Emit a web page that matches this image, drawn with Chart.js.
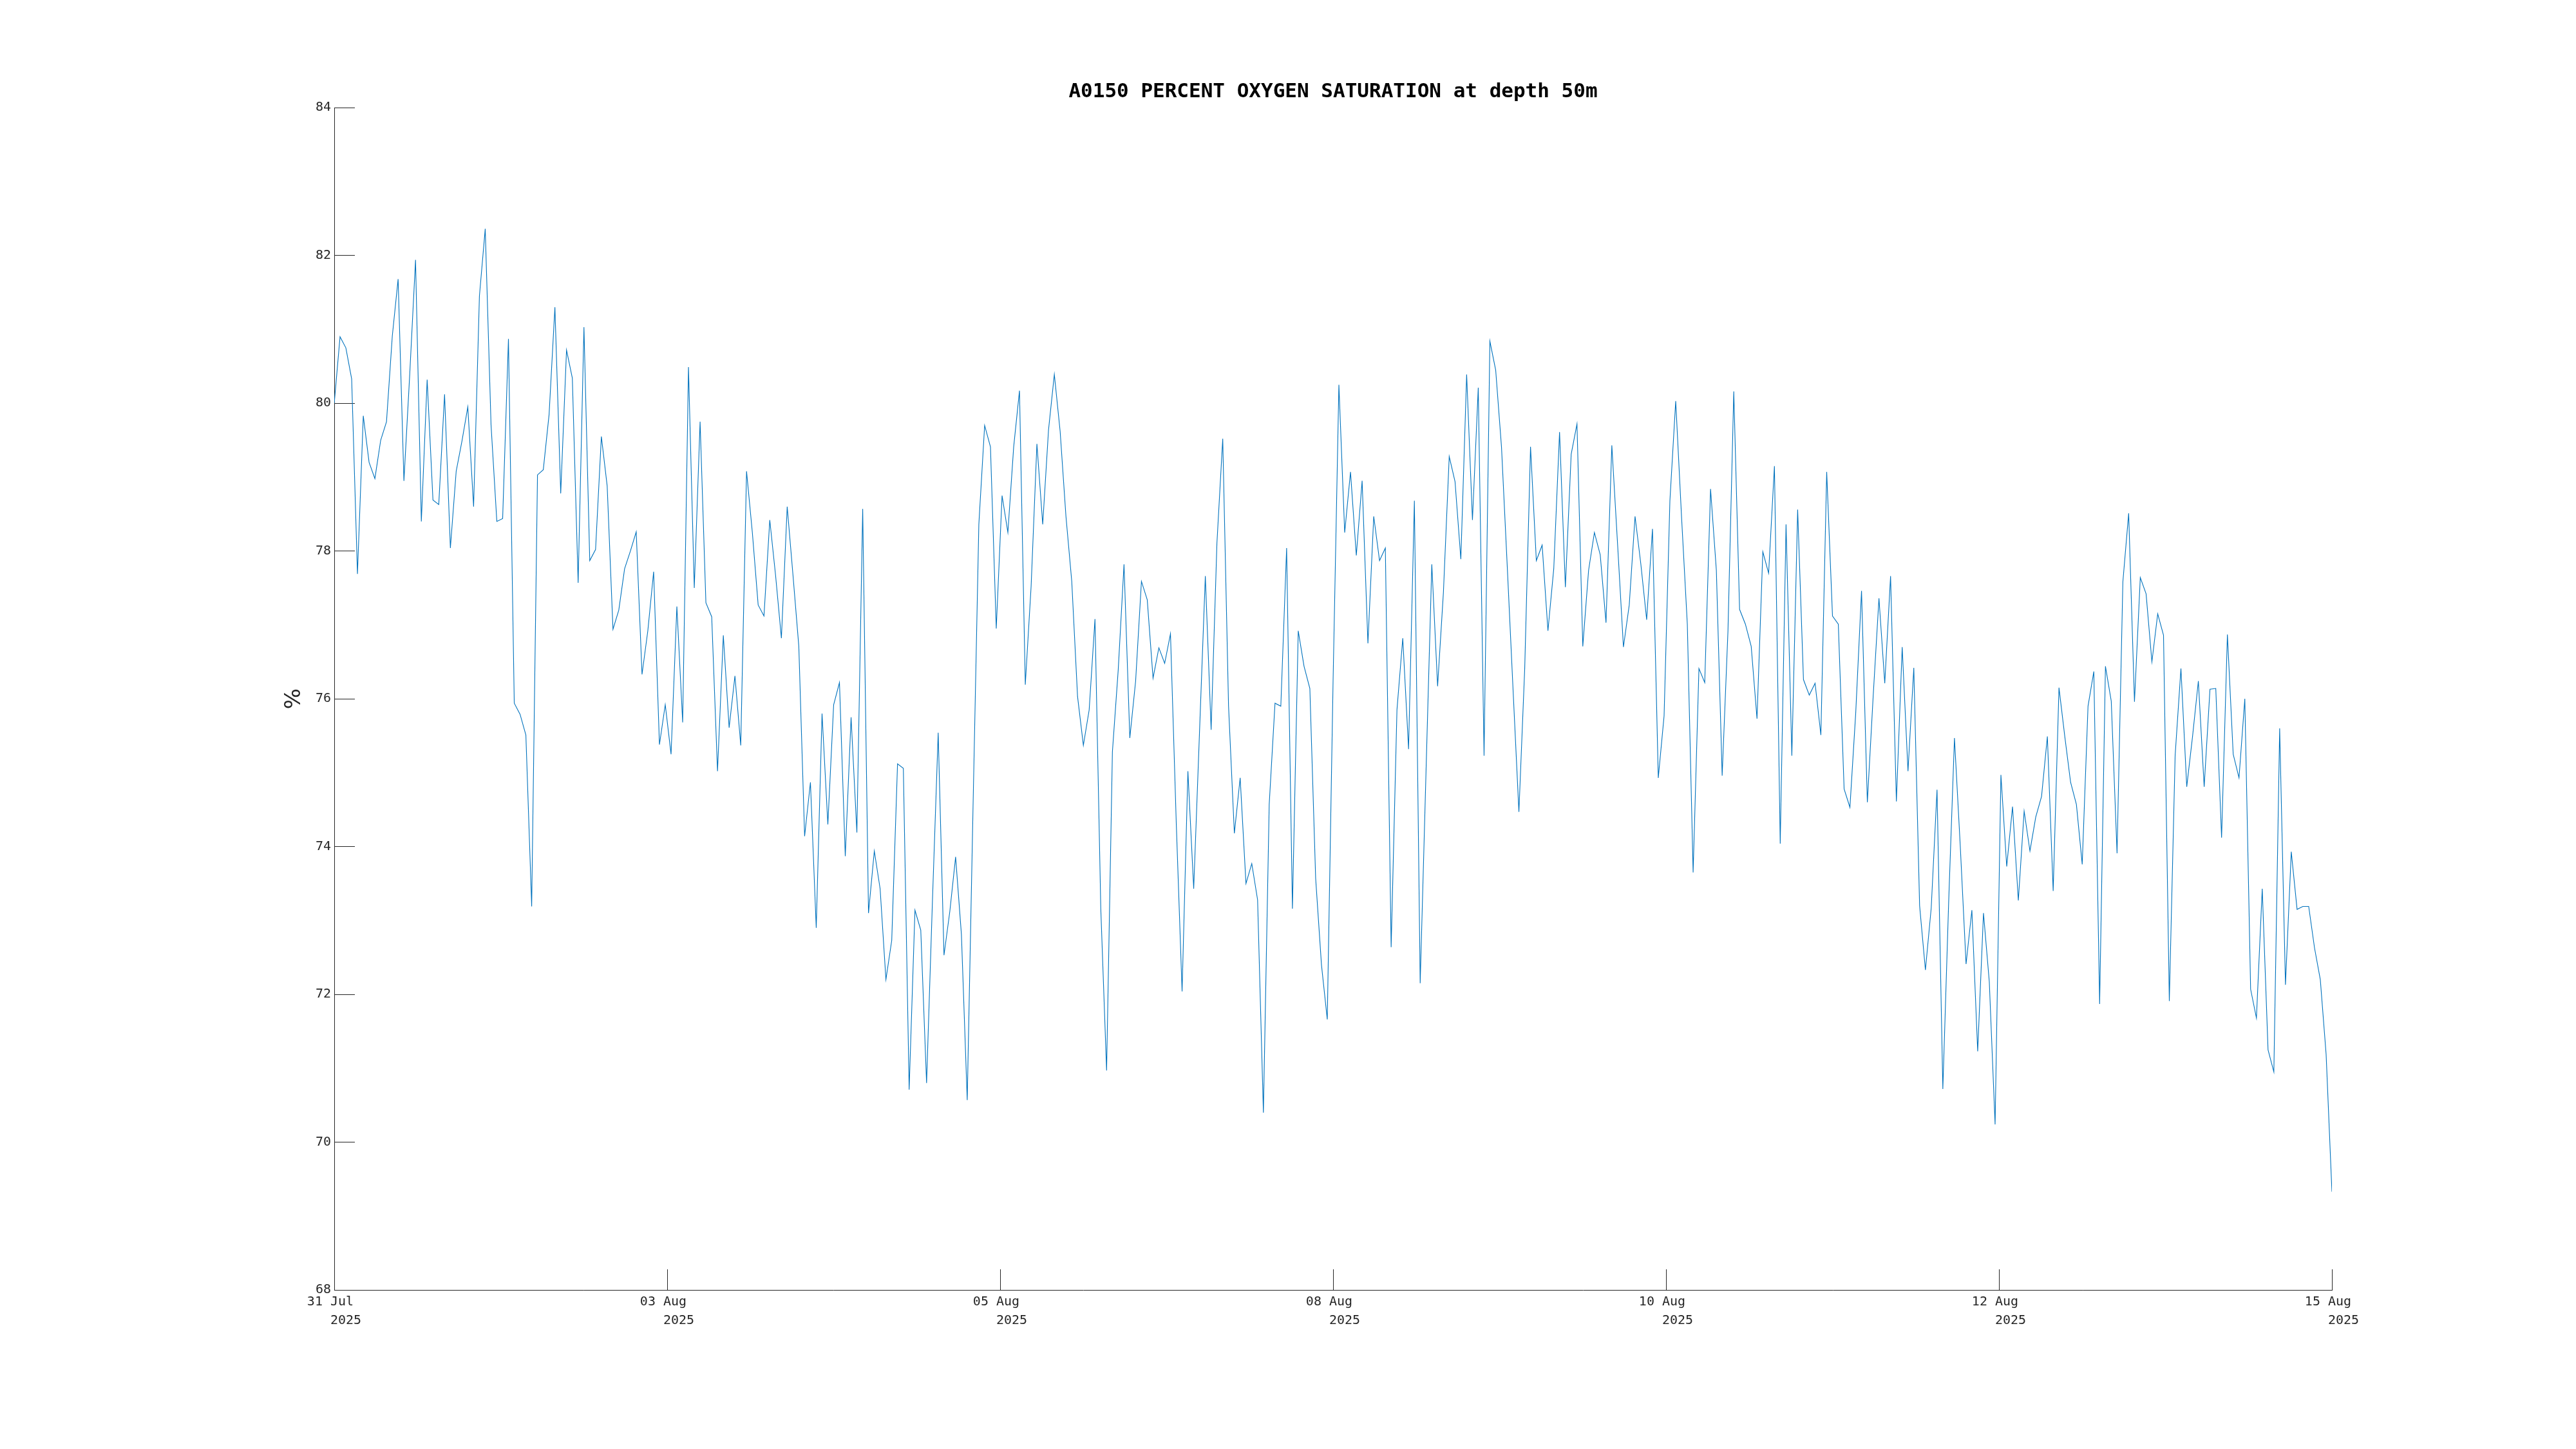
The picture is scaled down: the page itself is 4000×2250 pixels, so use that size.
<!DOCTYPE html>
<html>
<head>
<meta charset="utf-8">
<script src="https://cdn.jsdelivr.net/npm/chart.js@4.4.1/dist/chart.umd.min.js"></script>
<style>
  html, body { margin: 0; padding: 0; background: #ffffff; }
  #wrap { width: 4000px; height: 2250px; }
</style>
</head>
<body>
<div id="wrap"><canvas id="c" width="4000" height="2250"></canvas></div>
<script>
// ---------------- data ----------------
const titleText = "A0150 PERCENT OXYGEN SATURATION at depth 50m";
const yAxisLabel = "%";

// sample values, evenly spaced in time from 31 Jul 2025 to 15 Aug 2025
const values = [
  80.00, 80.90, 80.75, 80.33, 77.69, 79.83, 79.20, 78.98, 79.50, 79.75,
  80.91, 81.68, 78.95, 80.39, 81.94, 78.40, 80.32, 78.69, 78.63, 80.12,
  78.04, 79.08, 79.49, 79.95, 78.60, 81.45, 82.36, 79.71, 78.40, 78.44,
  80.87, 75.94, 75.79, 75.51, 73.19, 79.03, 79.10, 79.85, 81.30, 78.78,
  80.72, 80.34, 77.57, 81.03, 77.87, 78.02, 79.55, 78.88, 76.94, 77.20,
  77.76, 78.00, 78.26, 76.33, 76.92, 77.72, 75.38, 75.92, 75.25, 77.25,
  75.68, 80.49, 77.50, 79.75, 77.30, 77.11, 75.02, 76.86, 75.61, 76.31,
  75.37, 79.08, 78.25, 77.27, 77.12, 78.42, 77.67, 76.82, 78.60, 77.67,
  76.71, 74.14, 74.87, 72.90, 75.80, 74.30, 75.92, 76.22, 73.87, 75.75,
  74.19, 78.57, 73.10, 73.94, 73.43, 72.20, 72.73, 75.12, 75.06, 70.71,
  73.14, 72.87, 70.80, 73.24, 75.54, 72.53, 73.12, 73.86, 72.81, 70.57,
  74.53, 78.36, 79.70, 79.41, 76.95, 78.75, 78.25, 79.41, 80.17, 76.19,
  77.52, 79.45, 78.36, 79.64, 80.39, 79.62, 78.47, 77.59, 76.03, 75.37,
  75.85, 77.08, 73.16, 70.97, 75.28, 76.39, 77.82, 75.47, 76.24, 77.59,
  77.34, 76.28, 76.69, 76.48, 76.88, 74.31, 72.04, 75.02, 73.43, 75.55,
  77.66, 75.58, 78.11, 79.52, 75.90, 74.18, 74.93, 73.50, 73.77, 73.28,
  70.40, 74.57, 75.94, 75.90, 78.04, 73.16, 76.92, 76.44, 76.14, 73.57,
  72.40, 71.66, 76.24, 80.25, 78.25, 79.07, 77.94, 78.95, 76.75, 78.47,
  77.87, 78.04, 72.64, 75.85, 76.82, 75.32, 78.68, 72.15, 75.00, 77.82,
  76.17, 77.44, 79.28, 78.94, 77.89, 80.39, 78.42, 80.21, 75.23, 80.84,
  80.45, 79.41, 77.78, 76.11, 74.47, 76.41, 79.41, 77.87, 78.08, 76.92,
  77.76, 79.61, 77.51, 79.31, 79.72, 76.71, 77.74, 78.25, 77.95, 77.03,
  79.43, 78.08, 76.70, 77.27, 78.47, 77.82, 77.07, 78.30, 74.93, 75.77,
  78.68, 80.03, 78.47, 77.01, 73.65, 76.41, 76.22, 78.84, 77.74, 74.96,
  76.92, 80.16, 77.21, 77.01, 76.71, 75.73, 77.99, 77.70, 79.15, 74.04,
  78.36, 75.23, 78.56, 76.26, 76.05, 76.21, 75.51, 79.07, 77.12, 77.01,
  74.78, 74.53, 75.81, 77.46, 74.60, 76.03, 77.36, 76.21, 77.66, 74.61,
  76.70, 75.02, 76.42, 73.20, 72.33, 73.17, 74.77, 70.72, 73.24, 75.47,
  74.01, 72.41, 73.14, 71.23, 73.10, 72.17, 70.24, 74.97, 73.73, 74.54,
  73.27, 74.48, 73.94, 74.40, 74.68, 75.49, 73.40, 76.15, 75.49, 74.87,
  74.57, 73.76, 75.90, 76.37, 71.87, 76.44, 75.97, 73.91, 77.58, 78.51,
  75.96, 77.64, 77.42, 76.50, 77.15, 76.86, 71.91, 75.23, 76.41, 74.81,
  75.49, 76.24, 74.81, 76.13, 76.14, 74.12, 76.87, 75.25, 74.93, 76.00,
  72.07, 71.68, 73.43, 71.25, 70.95, 75.60, 72.13, 73.93, 73.15, 73.19,
  73.19, 72.63, 72.20, 71.19, 69.33
];

// x tick labels (equally spaced across the record)
const xTickDates = ["31 Jul", "03 Aug", "05 Aug", "08 Aug", "10 Aug", "12 Aug", "15 Aug"];
const xTickYear = "2025";

// y axis
const yMin = 68;
const yMax = 84;
const yStep = 2;

// ---------------- chart ----------------
const lastIndex = values.length - 1;
const points = values.map((v, i) => ({ x: i, y: v }));
const xTickPositions = xTickDates.map((_, i) => i * lastIndex / (xTickDates.length - 1));

const MONO = "'DejaVu Sans Mono', 'Liberation Mono', monospace";
const AXIS_COLOR = '#262626';

new Chart(document.getElementById('c'), {
  type: 'line',
  data: {
    datasets: [{
      data: points,
      borderColor: '#0072BD',
      borderWidth: 1.1,
      pointRadius: 0,
      tension: 0,
      fill: false
    }]
  },
  options: {
    responsive: false,
    devicePixelRatio: 1,
    animation: false,
    layout: { padding: { left: 0, right: 379, top: 0, bottom: 0 } },
    plugins: {
      legend: { display: false },
      tooltip: { enabled: false },
      title: {
        display: true,
        fullSize: false,
        text: titleText,
        color: '#000000',
        font: { family: MONO, size: 31, weight: 'bold', lineHeight: 1.2 },
        padding: { top: 124, bottom: 6 }
      }
    },
    scales: {
      x: {
        type: 'linear',
        min: 0,
        max: lastIndex,
        border: { display: true, color: AXIS_COLOR, width: 1 },
        grid: { display: true, drawOnChartArea: false, drawTicks: true, tickLength: -32, color: AXIS_COLOR, lineWidth: 1 },
        ticks: {
          autoSkip: false,
          maxRotation: 0,
          minRotation: 0,
          padding: 36,
          color: AXIS_COLOR,
          font: { family: MONO, size: 20, lineHeight: 1.45 },
          callback: function (value, index) {
            return [xTickDates[index] + ' ', '   ' + xTickYear];
          }
        },
        afterBuildTicks: function (scale) {
          scale.ticks = xTickPositions.map(v => ({ value: v }));
        },
        afterFit: function (scale) {
          scale.height = 247;
          scale.paddingLeft = 0;
          scale.paddingRight = 0;
        }
      },
      y: {
        type: 'linear',
        min: yMin,
        max: yMax,
        border: { display: true, color: AXIS_COLOR, width: 1 },
        grid: { display: true, drawOnChartArea: false, drawTicks: true, tickLength: -32, color: AXIS_COLOR, lineWidth: 1 },
        ticks: {
          stepSize: yStep,
          padding: 37,
          color: AXIS_COLOR,
          font: { family: MONO, size: 20 },
          callback: function (value) { return String(value); }
        },
        title: {
          display: true,
          text: yAxisLabel,
          color: AXIS_COLOR,
          font: { family: "'DejaVu Sans', sans-serif", size: 34, lineHeight: 1.2 },
          padding: { top: 437, bottom: 0 }
        },
        afterFit: function (scale) {
          scale.width = 519;
          scale.paddingTop = 0;
          scale.paddingBottom = 0;
        }
      }
    }
  }
});
</script>
</body>
</html>
